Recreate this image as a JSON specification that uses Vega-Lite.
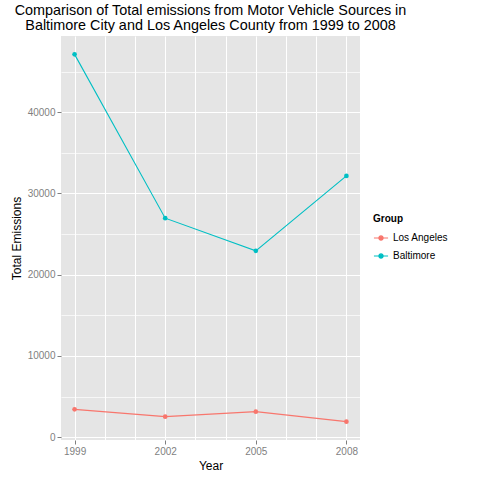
{
  "$schema": "https://vega.github.io/schema/vega-lite/v6.json",
  "autosize": "none",
  "width": 299,
  "height": 404,
  "padding": {"left": 61, "top": 36, "right": 120, "bottom": 40},
  "background": "white",
  "title": {
    "text": ["Comparison of Total emissions from Motor Vehicle Sources in", "Baltimore City and Los Angeles County from 1999 to 2008"],
    "font": "Liberation Sans",
    "fontSize": 14.4,
    "fontWeight": "normal",
    "color": "black",
    "anchor": "middle",
    "frame": "group",
    "lineHeight": 14.5,
    "offset": 3
  },
  "config": {
    "view": {"fill": "#E5E5E5", "stroke": null},
    "font": "Liberation Sans",
    "axis": {
      "domain": false,
      "gridColor": "white",
      "gridWidth": 1,
      "tickColor": "#7F7F7F",
      "tickSize": 4,
      "labelColor": "#7F7F7F",
      "labelFont": "Liberation Sans",
      "labelFontSize": 10,
      "titleFont": "Liberation Sans",
      "titleFontSize": 12,
      "titleFontWeight": "normal",
      "titleColor": "black",
      "labelPadding": 2
    }
  },
  "data": {
    "values": [
      {"year": 1999, "Group": "Los Angeles", "emissions": 3420},
      {"year": 2002, "Group": "Los Angeles", "emissions": 2521},
      {"year": 2005, "Group": "Los Angeles", "emissions": 3136},
      {"year": 2008, "Group": "Los Angeles", "emissions": 1906},
      {"year": 1999, "Group": "Baltimore", "emissions": 47134},
      {"year": 2002, "Group": "Baltimore", "emissions": 26962},
      {"year": 2005, "Group": "Baltimore", "emissions": 22940},
      {"year": 2008, "Group": "Baltimore", "emissions": 32165}
    ]
  },
  "encoding": {
    "x": {
      "field": "year",
      "type": "quantitative",
      "title": "Year",
      "scale": {"domain": [1998.55, 2008.45], "nice": false, "zero": false},
      "axis": {
        "values": [1999, 2000, 2001, 2002, 2003, 2004, 2005, 2006, 2007, 2008],
        "format": "d",
        "labelExpr": "(datum.value - 1999) % 3 == 0 ? datum.label : ''",
        "tickOpacity": {"condition": {"test": "(datum.value - 1999) % 3 == 0", "value": 1}, "value": 0},
        "labelFlush": false,
        "labelOverlap": false,
        "titlePadding": 4
      }
    },
    "y": {
      "field": "emissions",
      "type": "quantitative",
      "title": "Total Emissions",
      "scale": {"domain": [-355, 49395], "nice": false, "zero": false},
      "axis": {
        "values": [0, 5000, 10000, 15000, 20000, 25000, 30000, 35000, 40000, 45000],
        "format": "d",
        "labelExpr": "datum.value % 10000 == 0 ? datum.label : ''",
        "tickOpacity": {"condition": {"test": "datum.value % 10000 == 0", "value": 1}, "value": 0},
        "gridWidth": {"condition": {"test": "datum.value % 10000 == 0", "value": 1}, "value": 0.7},
        "labelFlush": false,
        "labelOverlap": false,
        "titlePadding": 4
      }
    },
    "color": {
      "field": "Group",
      "type": "nominal",
      "sort": ["Los Angeles", "Baltimore"],
      "scale": {"domain": ["Los Angeles", "Baltimore"], "range": ["#F8766D", "#00BFC4"]},
      "legend": {
        "orient": "none",
        "legendX": 312,
        "legendY": 178,
        "title": "Group",
        "titleFont": "Liberation Sans",
        "titleFontSize": 10,
        "titleFontWeight": "bold",
        "titleColor": "black",
        "labelFont": "Liberation Sans",
        "labelFontSize": 10,
        "labelColor": "black",
        "symbolType": "M-1,0H1M-0.3,0A0.3,0.3 0 1,0 0.3,0A0.3,0.3 0 1,0 -0.3,0",
        "symbolSize": 200,
        "symbolStrokeWidth": 1.2,
        "rowPadding": 5,
        "titlePadding": 6
      }
    }
  },
  "layer": [
    {"mark": {"type": "line", "strokeWidth": 1.1}},
    {"mark": {"type": "point", "filled": true, "size": 22, "opacity": 1}}
  ]
}
